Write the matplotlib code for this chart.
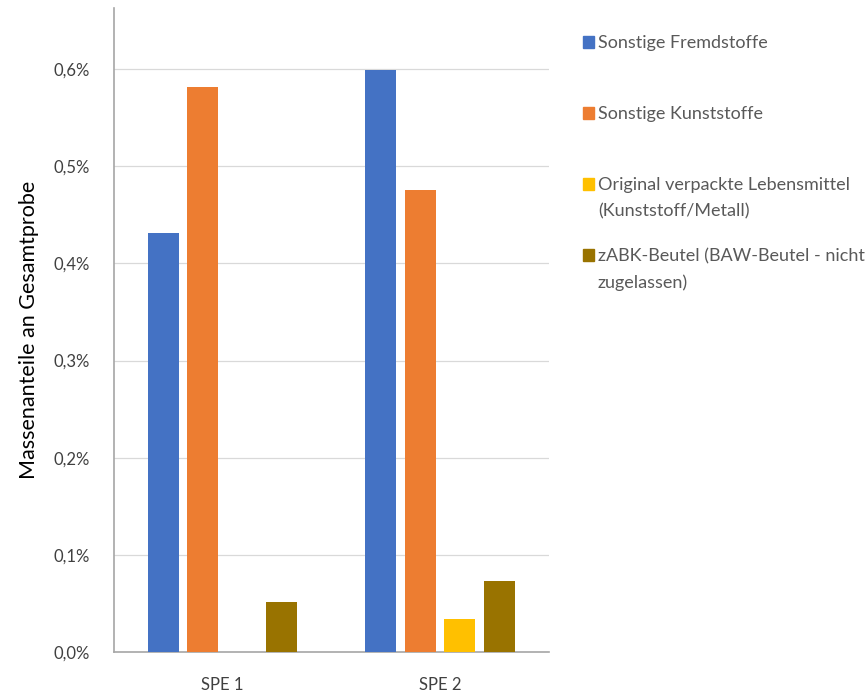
import numpy as np
import matplotlib
matplotlib.use("Agg")
import matplotlib.pyplot as plt
from matplotlib.patches import Rectangle
from matplotlib.ticker import FuncFormatter

# Daten (Massenanteile in %)
kategorien = ["SPE 1", "SPE 2"]
fremdstoffe = [0.431, 0.599]
kunststoffe = [0.582, 0.476]
lebensmittel = [0.0, 0.034]
zabk_beutel = [0.0514, 0.073]

serien = [fremdstoffe, kunststoffe, lebensmittel, zabk_beutel]
namen = ["Sonstige Fremdstoffe",
         "Sonstige Kunststoffe",
         "Original verpackte Lebensmittel\n(Kunststoff/Metall)",
         "zABK-Beutel (BAW-Beutel - nicht\nzugelassen)"]
farben = ["#4472C4", "#ED7D31", "#FFC000", "#997300"]

plt.rcParams['font.family'] = ['Lato', 'DejaVu Sans']

fig = plt.figure(figsize=(8.66, 6.93), dpi=100)
ax = fig.add_axes([0.1316, 0.0592, 0.5023, 0.9293])

x = np.arange(len(kategorien))
schritt = 0.1816
breite = 0.1425
for i, (werte, farbe) in enumerate(zip(serien, farben)):
    pos = x + (i - 1.5) * schritt
    ax.bar(pos, werte, width=breite, color=farbe, zorder=3)

ax.set_xlim(-0.5, 1.5)
ax.set_ylim(0, 0.663)
ax.set_yticks([0, 0.1, 0.2, 0.3, 0.4, 0.5, 0.6])
ax.yaxis.set_major_formatter(FuncFormatter(lambda v, p: f"{v:.1f}%".replace(".", ",")))
ax.set_xticks(x)
ax.set_xticklabels(kategorien)
ax.grid(axis='y', color='#D9D9D9', lw=0.9, zorder=0)
ax.tick_params(length=0, labelsize=12, labelcolor='#404040')
ax.tick_params(axis='y', pad=17)
ax.tick_params(axis='x', pad=18)
for s in ['top', 'right']:
    ax.spines[s].set_visible(False)
for s in ['left', 'bottom']:
    ax.spines[s].set_color('#A6A6A6')
    ax.spines[s].set_linewidth(1.2)
ax.set_ylabel("Massenanteile an Gesamtprobe", fontsize=15.5, color='black', labelpad=11)

# Legende rechts, von Hand gesetzt
y_start = 1 - 42 / 693
abstand = 71 / 693
for i, (name, farbe) in enumerate(zip(namen, farben)):
    y = y_start - i * abstand
    fig.add_artist(Rectangle((583 / 866, y - 6 / 693), 11 / 866, 12 / 693,
                             transform=fig.transFigure, color=farbe))
    fig.text(598 / 866, y + 7 / 693, name, fontsize=13, color='#595959',
             va='top', ha='left', linespacing=1.75,
             transform=fig.transFigure)

fig.savefig("out.png", dpi=100)
